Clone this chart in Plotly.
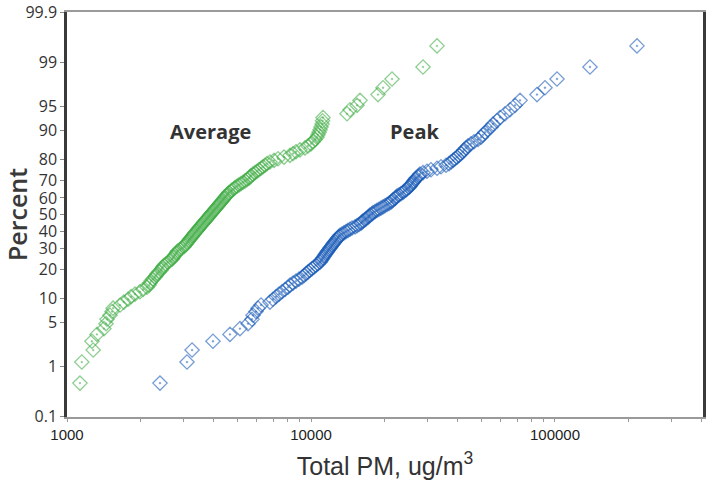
import plotly.graph_objects as go
from statistics import NormalDist

# Cumulative percent (plotting positions)
percent = [
    0.50, 1.21, 1.92, 2.64, 3.35, 4.06, 4.77, 5.48, 6.20, 6.91,
    7.62, 8.33, 9.05, 9.76, 10.47, 11.18, 11.89, 12.61, 13.32, 14.03,
    14.74, 15.46, 16.17, 16.88, 17.59, 18.30, 19.02, 19.73, 20.44, 21.15,
    21.87, 22.58, 23.29, 24.00, 24.72, 25.43, 26.14, 26.85, 27.56, 28.28,
    28.99, 29.70, 30.41, 31.13, 31.84, 32.55, 33.26, 33.97, 34.69, 35.40,
    36.11, 36.82, 37.54, 38.25, 38.96, 39.67, 40.38, 41.10, 41.81, 42.52,
    43.23, 43.95, 44.66, 45.37, 46.08, 46.79, 47.51, 48.22, 48.93, 49.64,
    50.36, 51.07, 51.78, 52.49, 53.21, 53.92, 54.63, 55.34, 56.05, 56.77,
    57.48, 58.19, 58.90, 59.62, 60.33, 61.04, 61.75, 62.46, 63.18, 63.89,
    64.60, 65.31, 66.03, 66.74, 67.45, 68.16, 68.87, 69.59, 70.30, 71.01,
    71.72, 72.44, 73.15, 73.86, 74.57, 75.28, 76.00, 76.71, 77.42, 78.13,
    78.85, 79.56, 80.27, 80.98, 81.70, 82.41, 83.12, 83.83, 84.54, 85.26,
    85.97, 86.68, 87.39, 88.11, 88.82, 89.53, 90.24, 90.95, 91.67, 92.38,
    93.09, 93.80, 94.52, 95.23, 95.94, 96.65, 97.36, 98.08, 98.79, 99.50,
]

average_pm = [
    1130, 1150, 1280, 1265, 1327, 1418, 1445, 1459, 1500, 1530,
    1545, 1650, 1710, 1780, 1830, 1900, 1990, 2050, 2128, 2170,
    2190, 2210, 2250, 2290, 2320, 2338, 2380, 2430, 2450, 2470,
    2500, 2545, 2590, 2645, 2695, 2720, 2745, 2770, 2800, 2824,
    2850, 2905, 2960, 3015, 3045, 3075, 3103, 3135, 3160, 3190,
    3225, 3255, 3285, 3315, 3345, 3380, 3410, 3445, 3475, 3510,
    3540, 3575, 3610, 3645, 3680, 3715, 3748, 3785, 3820, 3855,
    3890, 3930, 3965, 4005, 4040, 4080, 4119, 4160, 4195, 4235,
    4275, 4320, 4360, 4400, 4440, 4485, 4527, 4570, 4610, 4700,
    4745, 4835, 4880, 4975, 5070, 5165, 5265, 5365, 5467, 5570,
    5625, 5675, 5785, 5895, 6008, 6120, 6240, 6360, 6480, 6602,
    6790, 7055, 7325, 7750, 8200, 8440, 8680, 9015, 9450, 9720,
    10000, 10190, 10390, 10580, 10680, 10790, 10890, 10990, 11100, 11150,
    11200, 14050, 14450, 15440, 15880, 18820, 19730, 21480, 28780, 32850,
]

peak_pm = [
    2405, 3103, 3255, 3965, 4655, 5115, 5520, 5730, 5785, 5950,
    6065, 6240, 6790, 6985, 7190, 7395, 7605, 7825, 8050, 8200,
    8440, 8680, 8930, 9185, 9360, 9540, 9720, 9905, 10100, 10290,
    10480, 10680, 10890, 10990, 11100, 11200, 11310, 11410, 11520, 11630,
    11740, 11850, 11960, 12080, 12190, 12310, 12420, 12540, 12660, 12780,
    12900, 13020, 13150, 13400, 13650, 13910, 14180, 14450, 14730, 15150,
    15440, 15730, 16030, 16180, 16340, 16650, 16810, 17120, 17290, 17450,
    17780, 17950, 18290, 18640, 19000, 19360, 19730, 20100, 20490, 20880,
    21270, 21480, 21680, 22090, 22300, 22510, 22940, 23380, 23830, 24050,
    24510, 24740, 25210, 25450, 25690, 25940, 26180, 26430, 26680, 26940,
    27450, 27710, 27970, 28780, 29880, 31030, 32850, 34110, 35760, 36790,
    37490, 38200, 38930, 39670, 40430, 41200, 41980, 42380, 43190, 44010,
    45270, 46570, 48370, 49750, 50700, 51670, 53150, 54680, 55720, 57860,
    59530, 62400, 65420, 68580, 71890, 84380, 90990, 101900, 139100, 216800,
]

y_tick_values = [0.1, 1, 5, 10, 20, 30, 40, 50, 60, 70, 80, 90, 95, 99, 99.9]
y_tick_labels = ["0.1", "1", "5", "10", "20", "30", "40", "50", "60", "70",
                 "80", "90", "95", "99", "99.9"]
x_major = [1000, 10000, 100000]

nd = NormalDist()


def probit(p):
    return nd.inv_cdf(p / 100.0)


y_z = [probit(p) for p in percent]

x_ticks = []
x_text = []
for dec in [1000, 10000, 100000]:
    for m in range(1, 10):
        v = dec * m
        if v > 400000:
            break
        x_ticks.append(v)
        x_text.append(str(v) if v in x_major else "")

fig = go.Figure()
fig.add_trace(go.Scatter(
    x=average_pm, y=y_z, mode="markers", name="Average",
    marker=dict(symbol="diamond-open-dot", size=11, color="#43ad47",
                opacity=0.6, line=dict(width=1.3, color="#43ad47")),
))
fig.add_trace(go.Scatter(
    x=peak_pm, y=y_z, mode="markers", name="Peak",
    marker=dict(symbol="diamond-open-dot", size=11, color="#1a5cb8",
                opacity=0.6, line=dict(width=1.3, color="#1a5cb8")),
))

zlim = probit(99.9) * 1.001

fig.update_layout(
    width=708, height=486,
    margin=dict(l=67, r=5, t=12, b=69, autoexpand=False),
    paper_bgcolor="white", plot_bgcolor="white",
    showlegend=False,
    xaxis=dict(
        type="log", range=[3, 5.6066], automargin=False,
        tickvals=x_ticks, ticktext=x_text,
        ticks="outside", ticklen=3, tickcolor="#999", tickwidth=1,
        showgrid=False, zeroline=False,
        showline=True, linecolor="#9a9a9a", linewidth=2, mirror=True,
        tickfont=dict(family="Liberation Sans, Arial", size=15, color="#222"),
        title=dict(text="Total PM, ug/m<sup>3</sup>", standoff=15,
                   font=dict(family="Liberation Sans, Arial", size=25, color="#333")),
    ),
    yaxis=dict(
        range=[-zlim, zlim], automargin=False,
        tickvals=[probit(v) for v in y_tick_values], ticktext=y_tick_labels,
        ticks="outside", ticklen=4, tickcolor="#888", tickwidth=1,
        ticklabeloverflow="allow",
        showgrid=False, zeroline=False,
        showline=True, linecolor="#3a3a3a", linewidth=2.5, mirror=True,
        tickfont=dict(family="Open Sans", size=16, color="#333"),
        title=dict(text="Percent", standoff=6,
                   font=dict(family="Open Sans", size=25, color="#3a3a3a", weight=600)),
    ),
    annotations=[
        dict(text="<b>Average</b>", xref="paper", yref="paper", x=0.225, y=0.705,
             xanchor="center", yanchor="middle",
             showarrow=False, font=dict(family="Open Sans", size=20, color="#333")),
        dict(text="<b>Peak</b>", xref="paper", yref="paper", x=0.546, y=0.705,
             xanchor="center", yanchor="middle",
             showarrow=False, font=dict(family="Open Sans", size=20, color="#333")),
    ],
)

fig.write_html("out.html")
